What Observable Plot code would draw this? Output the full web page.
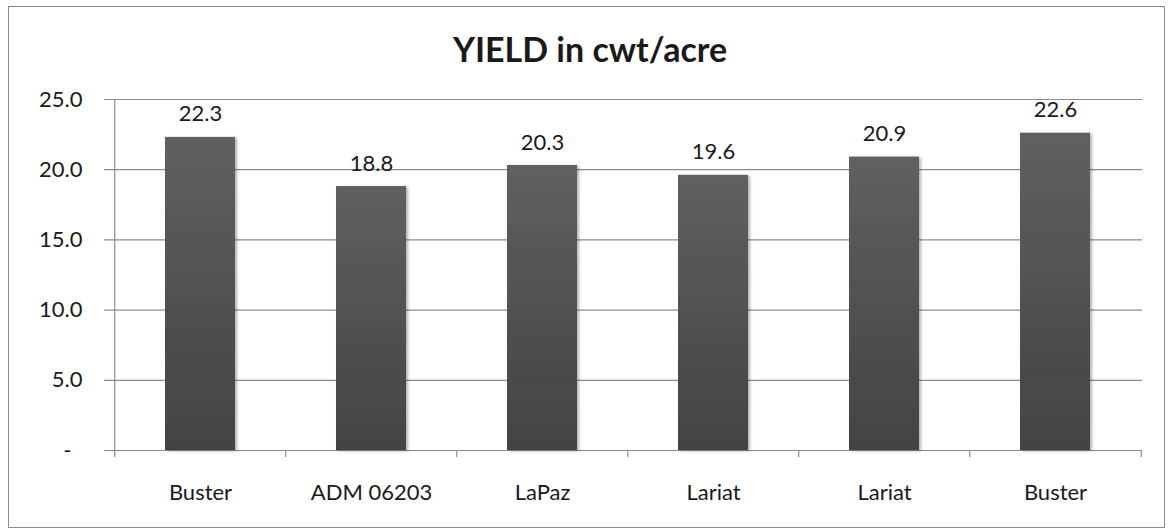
<!DOCTYPE html>
<html>
<head>
<meta charset="utf-8">
<script src="https://cdn.jsdelivr.net/npm/d3@7"></script>
<script src="https://cdn.jsdelivr.net/npm/@observablehq/plot@0.6"></script>
<style>
  html, body { margin: 0; padding: 0; background: #fff; }
  #wrap { position: relative; width: 1169px; height: 529px; }
  #border { position: absolute; left: 8px; top: 6px; width: 1155px; height: 520px; border: 1.5px solid #8a8a8a; box-sizing: content-box; pointer-events: none; }
  svg { font-family: Lato, "Open Sans", sans-serif; }
</style>
</head>
<body>
<div id="wrap"><div id="border"></div></div>
<script>
const title = "YIELD in cwt/acre";
const varieties = ["Buster", "ADM 06203", "LaPaz", "Lariat", "Lariat", "Buster"];
const yields = [22.3, 18.8, 20.3, 19.6, 20.9, 22.6];
const yTicks = [0, 5, 10, 15, 20, 25];

const data = varieties.map((v, i) => ({id: i, name: v, value: yields[i]}));
const step = (1142 - 113) / varieties.length;

const defs = () => {
  const d = d3.create("svg:defs");
  const g = d.append("linearGradient").attr("id", "barGrad").attr("x1", 0).attr("y1", 0).attr("x2", 0).attr("y2", 1);
  g.append("stop").attr("offset", "0%").attr("stop-color", "#606060");
  g.append("stop").attr("offset", "100%").attr("stop-color", "#434343");
  const f = d.append("filter").attr("id", "shadow").attr("x", "-20%").attr("y", "-20%").attr("width", "140%").attr("height", "140%");
  f.append("feDropShadow").attr("dx", 2).attr("dy", 1).attr("stdDeviation", 1.5).attr("flood-color", "#000").attr("flood-opacity", 0.3);
  return d.node();
};

const chart = Plot.plot({
  width: 1169,
  height: 529,
  marginLeft: 113,
  marginRight: 27,
  marginTop: 99,
  marginBottom: 79,
  style: {fontFamily: "Lato, 'Open Sans', sans-serif", background: "transparent"},
  x: {domain: data.map(d => d.id), paddingInner: 0.59, paddingOuter: 0.295, axis: null},
  y: {domain: [0, 25], axis: null},
  marks: [
    defs,
    Plot.ruleY(yTicks, {stroke: "#8c8c8c", strokeWidth: 1.2, insetLeft: -9}),
    Plot.ruleX(data, {x: "id", dx: -step / 2, y1: -0.5, y2: d => d.id === 0 ? 25 : 0, stroke: "#8c8c8c", strokeWidth: 1.2}),
    Plot.ruleX(data.slice(-1), {x: "id", dx: step / 2, y1: -0.5, y2: 0, stroke: "#8c8c8c", strokeWidth: 1.2}),
    Plot.barY(data, {x: "id", y: "value", fill: "url(#barGrad)"}),
    Plot.text(data, {x: "id", y: "value", text: d => d.value.toFixed(1), dy: -23, fontSize: 22, fill: "#1a1a1a"}),
    Plot.text(data, {x: "id", y: 0, text: "name", dy: 42, fontSize: 22, fill: "#1a1a1a"}),
    Plot.text(yTicks.filter(d => d !== 0), {y: d => d, text: d => d.toFixed(1), frameAnchor: "left", dx: -31, textAnchor: "end", fontSize: 22, fill: "#1a1a1a"}),
    Plot.text(yTicks.filter(d => d === 0), {y: d => d, text: () => "-", frameAnchor: "left", dx: -42, textAnchor: "end", fontSize: 22, fill: "#1a1a1a"}),
    Plot.text([title], {frameAnchor: "top", lineAnchor: "middle", dy: -48, dx: -38, text: d => d, fontSize: 34, fontWeight: "bold", fill: "#1a1a1a"})
  ]
});
chart.querySelectorAll("rect").forEach(r => r.setAttribute("filter", "url(#shadow)"));
document.getElementById("wrap").prepend(chart);
</script>
</body>
</html>
